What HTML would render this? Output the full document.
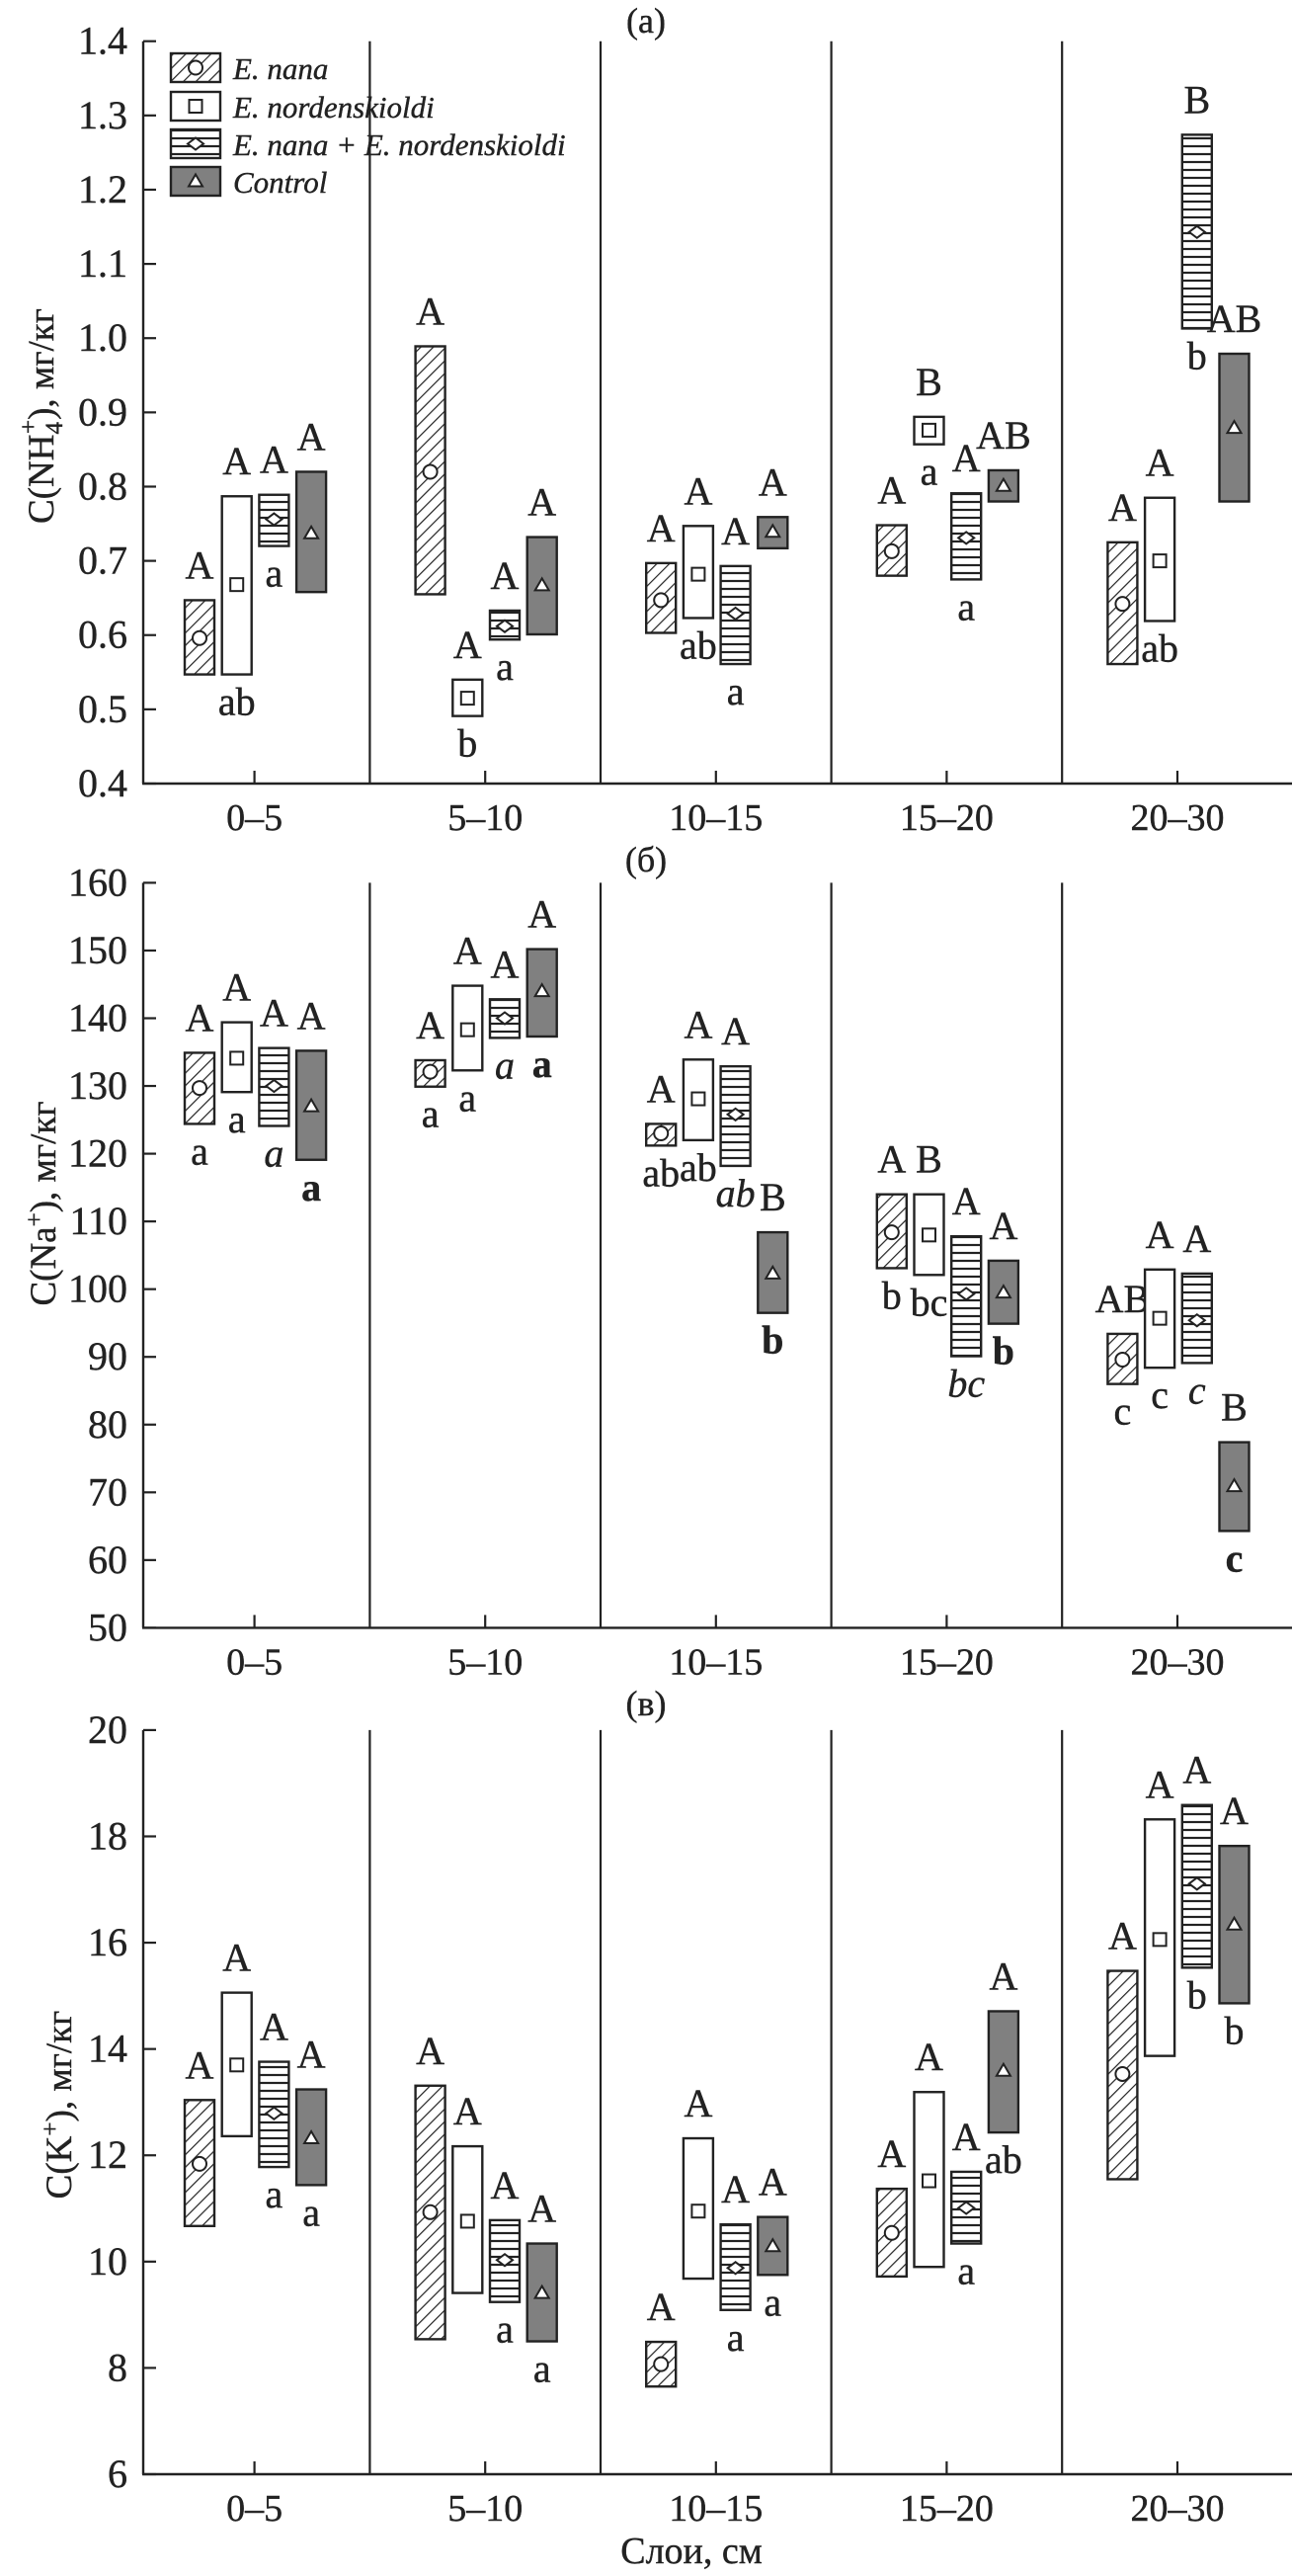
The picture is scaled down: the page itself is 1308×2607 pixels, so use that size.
<!DOCTYPE html>
<html><head><meta charset="utf-8">
<style>
html,body{margin:0;padding:0;background:#fff;}
svg{display:block;font-family:"Liberation Serif",serif;}
svg text{stroke:#222;stroke-width:0.4px;}
</style></head>
<body>
<svg id="chart" width="1308" height="2607" viewBox="0 0 1308 2607" xmlns="http://www.w3.org/2000/svg">
<defs>
<pattern id="hatch" patternUnits="userSpaceOnUse" width="9" height="9" patternTransform="rotate(45)">
<rect width="9" height="9" fill="#fff"/>
<line x1="0" y1="0" x2="0" y2="9" stroke="#222" stroke-width="2.4"/>
</pattern>
<pattern id="stripes" patternUnits="userSpaceOnUse" width="8" height="8">
<rect width="8" height="8" fill="#fff"/>
<line x1="0" y1="4" x2="8" y2="4" stroke="#222" stroke-width="2.2"/>
</pattern>
</defs>
</svg>
<script>
// ---------- DATA ----------
const categories = ["0–5","5–10","10–15","15–20","20–30"];
const seriesNames = ["E. nana","E. nordenskioldi","E. nana + E. nordenskioldi","Control"];

// Panel (а) NH4+
const nhTicks = ["0.4","0.5","0.6","0.7","0.8","0.9","1.0","1.1","1.2","1.3","1.4"];
const nhLow  = [[0.547,0.547,0.720,0.658],[0.655,0.491,0.594,0.601],[0.603,0.623,0.561,0.717],[0.680,0.857,0.675,0.780],[0.561,0.619,1.013,0.780]];
const nhHigh = [[0.647,0.787,0.789,0.820],[0.989,0.540,0.633,0.732],[0.697,0.747,0.693,0.759],[0.748,0.894,0.791,0.822],[0.725,0.785,1.274,0.979]];
const nhMean = [[0.596,0.668,0.756,0.737],[0.820,0.515,0.612,0.667],[0.647,0.682,0.629,0.739],[0.713,0.876,0.731,0.801],[0.642,0.700,1.143,0.879]];
const nhUp   = [["A","A","A","A"],["A","A","A","A"],["A","A","A","A"],["A","B","A","AB"],["A","A","B","AB"]];
const nhDown = [["","ab","a",""],["","b","a",""],["","ab","a",""],["","a","a",""],["","ab","b",""]];

// Panel (б) Na+
const naTicks = ["50","60","70","80","90","100","110","120","130","140","150","160"];
const naLow  = [[124.4,129.1,124.1,119.1],[129.9,132.3,137.1,137.3],[121.2,122.0,118.2,96.5],[103.1,102.1,90.1,94.9],[86.0,88.4,89.1,64.3]];
const naHigh = [[134.9,139.4,135.6,135.2],[133.8,144.8,142.8,150.2],[124.4,133.9,132.9,108.4],[114.0,114.0,107.8,104.2],[93.4,102.9,102.3,77.4]];
const naMean = [[129.7,134.1,130.0,127.0],[132.1,138.3,140.0,144.0],[123.0,128.1,125.8,102.3],[108.4,108.0,99.3,99.5],[89.6,95.7,95.4,70.9]];
const naUp   = [["A","A","A","A"],["A","A","A","A"],["A","A","A","B"],["A","B","A","A"],["AB","A","A","B"]];
const naDown = [["a","a","a","a"],["a","a","a","a"],["ab","ab","ab","b"],["b","bc","bc","b"],["c","c","c","c"]];

// Panel (в) K+
const kTicks = ["6","8","10","12","14","16","18","20"];
const kLow  = [[10.67,12.36,11.78,11.44],[8.54,9.41,9.24,8.50],[7.65,9.68,9.09,9.75],[9.72,9.90,10.34,12.43],[11.55,13.87,15.53,14.86]];
const kHigh = [[13.04,15.06,13.76,13.24],[13.31,12.17,10.78,10.34],[8.49,12.32,10.70,10.84],[11.37,13.19,11.69,14.71],[15.47,18.32,18.59,17.82]];
const kMean = [[11.84,13.70,12.79,12.32],[10.93,10.76,10.03,9.41],[8.07,10.95,9.88,10.29],[10.54,11.52,11.01,13.59],[13.53,16.06,17.11,16.34]];
const kUp   = [["A","A","A","A"],["A","A","A","A"],["A","A","A","A"],["A","A","A","A"],["A","A","A","A"]];
const kDown = [["","","a","a"],["","","a","a"],["","","a","a"],["","","a","ab"],["","","b","b"]];

// ---------- DRAWING ----------
const NS = "http://www.w3.org/2000/svg";
const svg = document.getElementById("chart");
const X0 = 145, XR = 1308, CAT0 = 257.6, CATW = 233.6, BARW = 30;
const fills = ["url(#hatch)","#fff","url(#stripes)","#808080"];
const fillNames = ["e-nana","e-nordenskioldi","mixed","control"];

function el(tag, attrs, parent){
  const e = document.createElementNS(NS, tag);
  for (const k in attrs) e.setAttribute(k, attrs[k]);
  (parent||svg).appendChild(e);
  return e;
}
function catX(i){ return CAT0 + CATW*i; }
function barX(i,k){ return catX(i) - 55.6 + 37.7*k; }

function marker(k, cx, cy, g){
  let m;
  if (k===0) m = el("circle",{cx:cx,cy:cy,r:7,fill:"#fff",stroke:"#222","stroke-width":2},g);
  else if (k===1) m = el("rect",{x:cx-6.5,y:cy-6.5,width:13,height:13,fill:"#fff",stroke:"#222","stroke-width":2},g);
  else if (k===2) m = el("polygon",{points:`${cx-8},${cy} ${cx},${cy-6} ${cx+8},${cy} ${cx},${cy+6}`,fill:"#fff",stroke:"#222","stroke-width":2},g);
  else m = el("polygon",{points:`${cx-7},${cy+5} ${cx},${cy-7} ${cx+7},${cy+5}`,fill:"#fff",stroke:"#222","stroke-width":2},g);
  
  
  return m;
}

function panel(p){
  const g = el("g",{});
  
  
  const n = p.ticks.length;
  const vmin = parseFloat(p.ticks[0]), vmax = parseFloat(p.ticks[n-1]);
  const y = v => p.bottom - (v - vmin)/(vmax - vmin)*(p.bottom - p.top);

  const ya = el("line",{x1:X0,y1:p.top,x2:X0,y2:p.bottom,stroke:"#222","stroke-width":2.4},g);
  
  
  const xa = el("line",{x1:X0-1,y1:p.bottom,x2:XR,y2:p.bottom,stroke:"#222","stroke-width":2.4},g);
  
  

  p.ticks.forEach((t)=>{
    const yy = y(parseFloat(t));
    const tk = el("line",{x1:X0,y1:yy,x2:X0+13,y2:yy,stroke:"#222","stroke-width":2.2},g);
    
    
    const tl = el("text",{x:129,y:yy+13,"text-anchor":"end","font-size":40,fill:"#222"},g);
    
    
    tl.textContent = t;
  });

  categories.forEach((c,i)=>{
    const cx = catX(i);
    const tk = el("line",{x1:cx,y1:p.bottom,x2:cx,y2:p.bottom-13,stroke:"#222","stroke-width":2.2},g);
    
    
    const tl = el("text",{x:cx,y:p.bottom+47,"text-anchor":"middle","font-size":38,fill:"#222"},g);
    
    
    tl.textContent = c;
    if (i < categories.length-1){
      const dv = el("line",{x1:cx+CATW/2,y1:p.top,x2:cx+CATW/2,y2:p.bottom,stroke:"#222","stroke-width":2.2},g);
      
      
    }
    for (let k=0;k<4;k++){
      const bx = barX(i,k);
      const yt = y(p.high[i][k]), yb = y(p.low[i][k]);
      const r = el("rect",{x:bx-BARW/2,y:yt,width:BARW,height:Math.max(1,yb-yt),fill:fills[k],stroke:"#222","stroke-width":2.4},g);
      
      
      marker(k, bx, y(p.mean[i][k]), g);
      if (p.up[i][k]){
        const u = el("text",{x:bx,y:yt-22,"text-anchor":"middle","font-size":40,fill:"#222"},g);
        
        
        u.textContent = p.up[i][k];
      }
      if (p.down[i][k]){
        const d = el("text",{x:bx,y:yb+41,"text-anchor":"middle","font-size":40,fill:"#222"},g);
        if (p.italicMix && k===2) d.setAttribute("font-style","italic");
        if (p.boldCtrl && k===3) d.setAttribute("font-weight","bold");
        
        
        d.textContent = p.down[i][k];
      }
    }
  });

  const ttl = el("text",{x:654,y:p.labelY,"text-anchor":"middle","font-size":36,fill:"#222"},g);
  
  
  ttl.textContent = p.label;

  const yt = el("text",{transform:`translate(${p.titleX},${p.titleY}) rotate(-90)`,"text-anchor":"middle","font-size":37,fill:"#222"},g);
  
  
  yt.innerHTML = p.titleHTML;
}

panel({name:"panel-nh4",ticks:nhTicks,low:nhLow,high:nhHigh,mean:nhMean,up:nhUp,down:nhDown,top:41.7,bottom:793,label:"(а)",labelY:33,titleX:54,titleY:421,
  titleHTML:'C(NH<tspan font-size="25" dy="9">4</tspan><tspan font-size="25" dx="-12" dy="-26">+</tspan><tspan dy="17">), мг/кг</tspan>'});
panel({name:"panel-na",ticks:naTicks,low:naLow,high:naHigh,mean:naMean,up:naUp,down:naDown,top:893.4,bottom:1647.4,label:"(б)",labelY:882,titleX:56,titleY:1218,italicMix:true,boldCtrl:true,
  titleHTML:'C(Na<tspan font-size="25" dy="-13">+</tspan><tspan dy="13">), мг/кг</tspan>'});
panel({name:"panel-k",ticks:kTicks,low:kLow,high:kHigh,mean:kMean,up:kUp,down:kDown,top:1750.9,bottom:2504,label:"(в)",labelY:1736,titleX:72,titleY:2130,
  titleHTML:'C(K<tspan font-size="25" dy="-13">+</tspan><tspan dy="13">), мг/кг</tspan>'});

const xt = el("text",{x:700,y:2594,"text-anchor":"middle","font-size":38,fill:"#222"});


xt.textContent = "Слои, см";

const lg = el("g",{});


const legendRowsY = [54, 93, 131, 169];
seriesNames.forEach((s,k)=>{
  const ry = legendRowsY[k];
  const box = el("rect",{x:173,y:ry,width:50,height:29,fill:fills[k],stroke:"#222","stroke-width":2.4},lg);
  
  
  marker(k, 198, ry+14.5, lg);
  const t = el("text",{x:236,y:ry+26,"font-size":31,"font-style":"italic",fill:"#222"},lg);
  
  
  t.textContent = s;
});
</script>
</body></html>
